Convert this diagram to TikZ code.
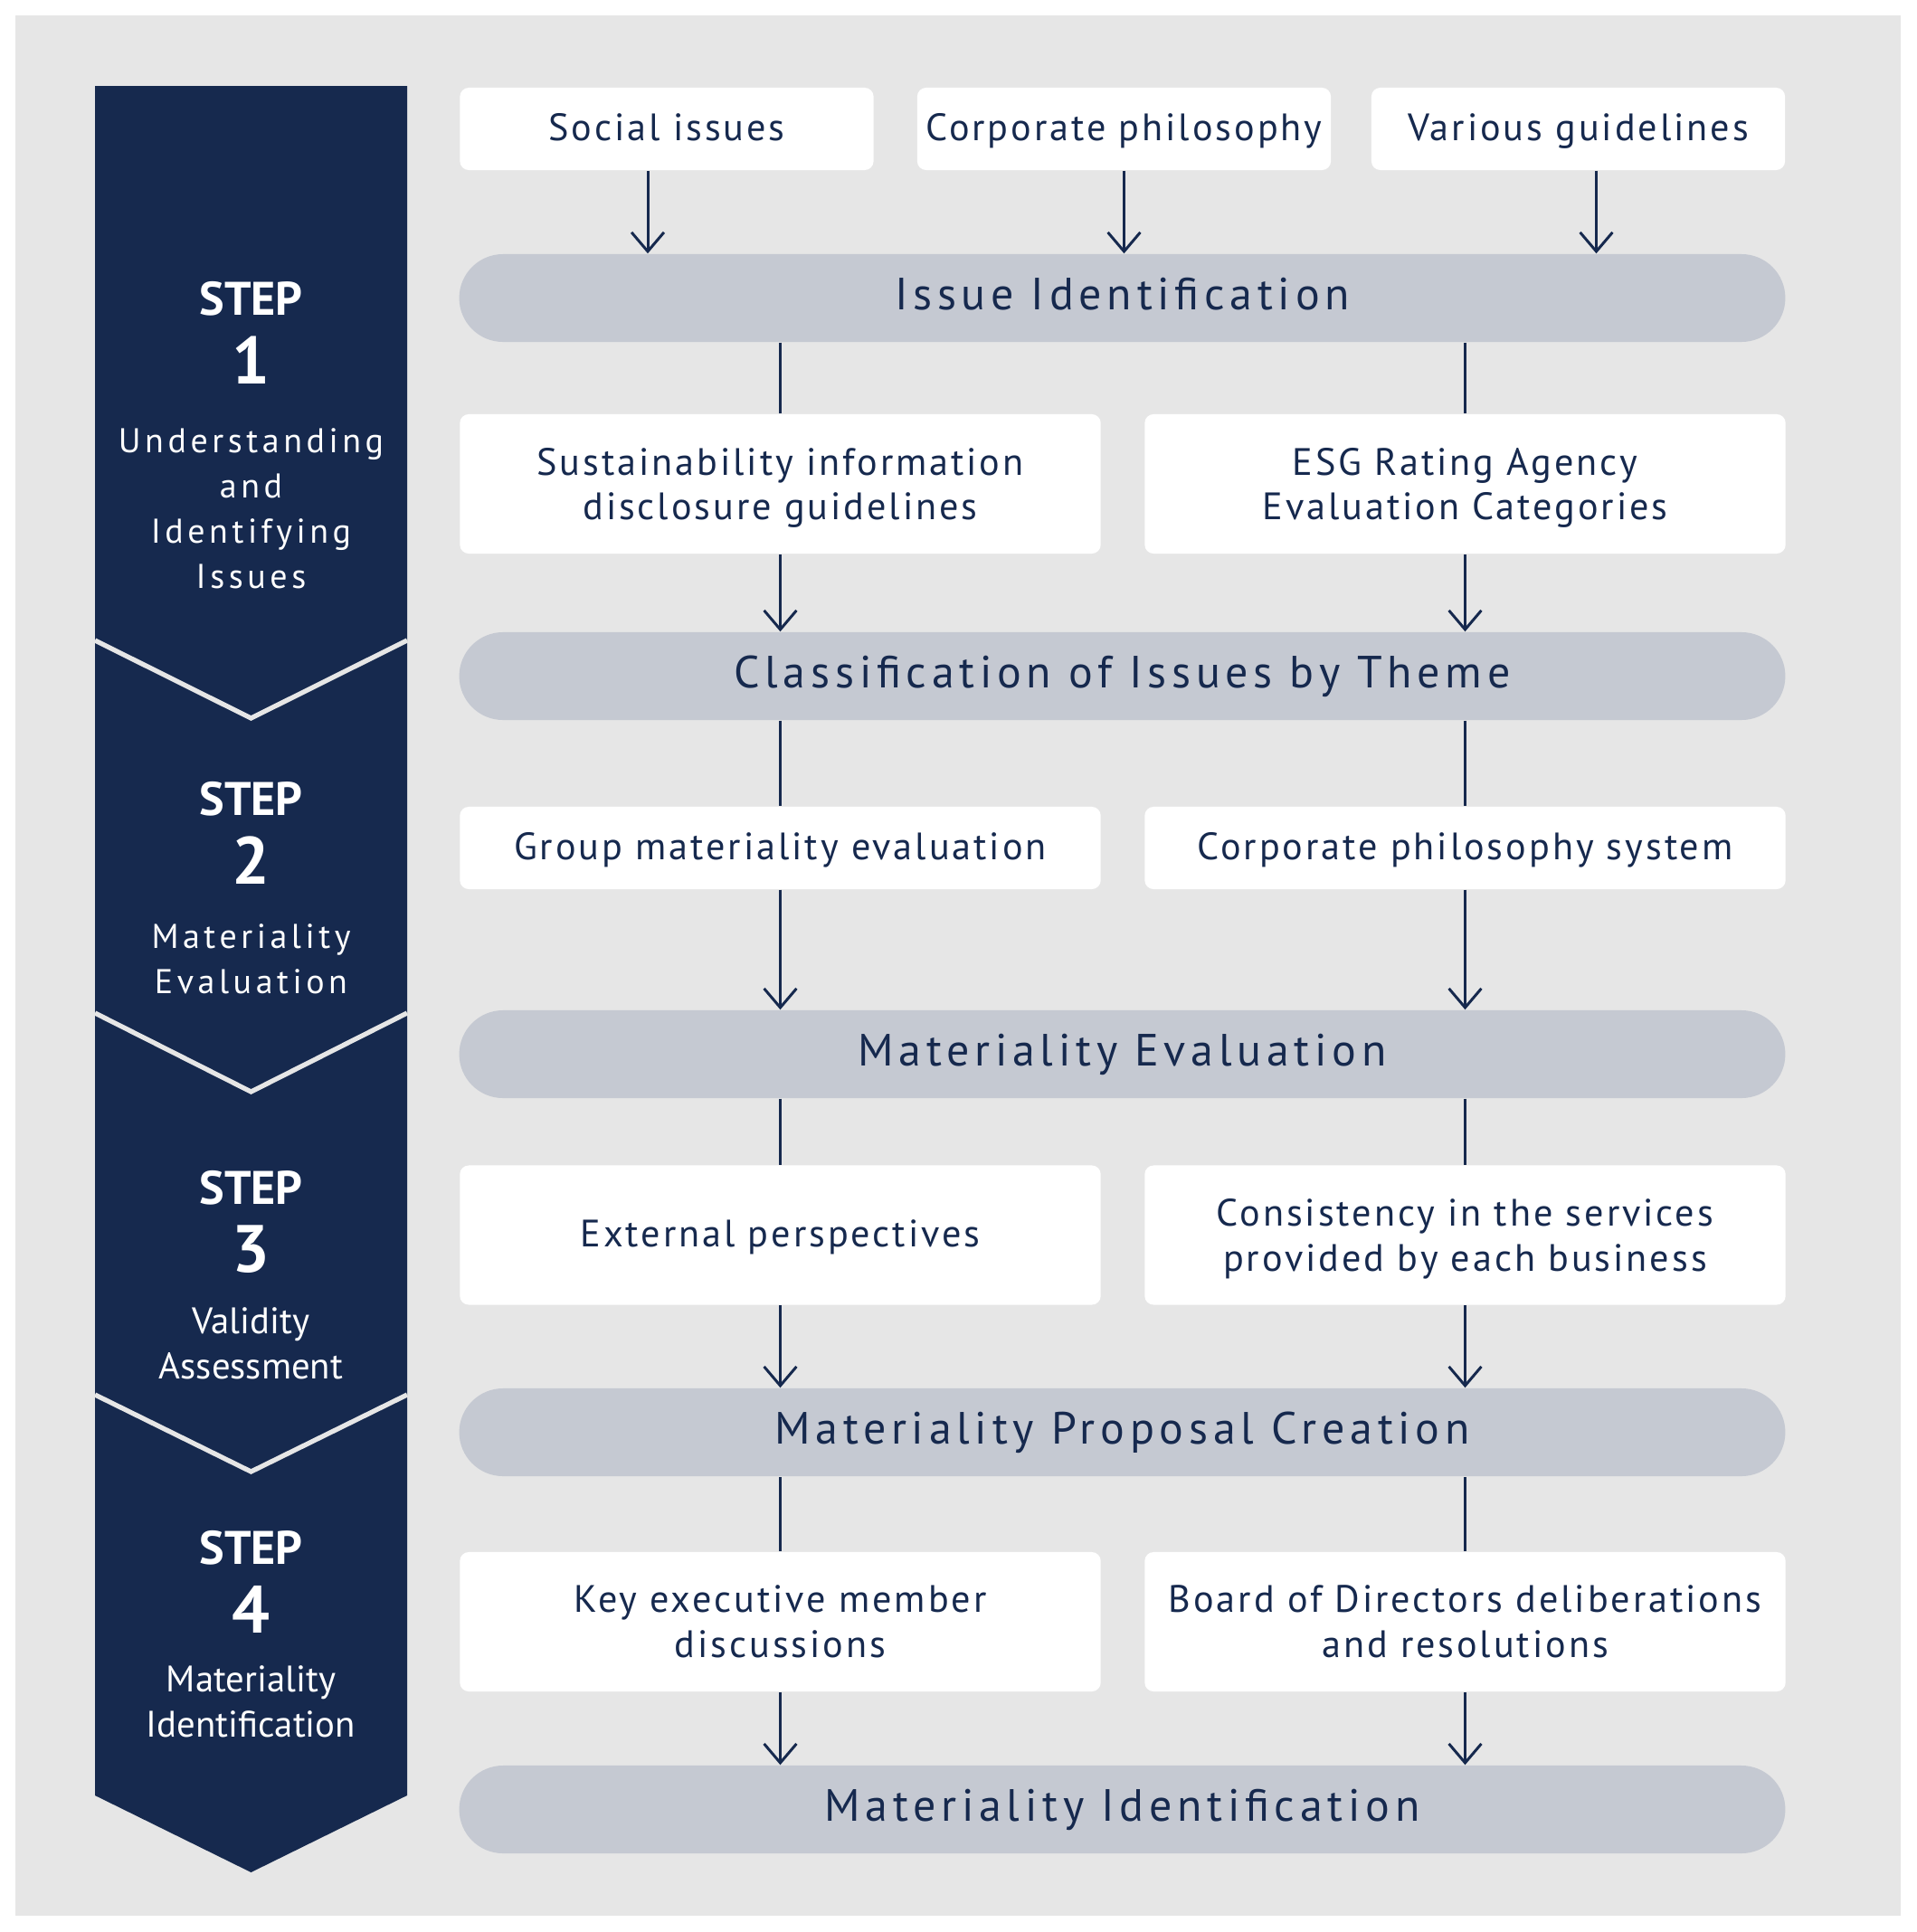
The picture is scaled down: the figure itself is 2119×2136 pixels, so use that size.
\documentclass[tikz,border=0pt]{standalone}
\usepackage{fontspec}
\setmainfont{PT Sans}
\newfontfamily\boxfont[LetterSpace=7]{PT Sans}
\newfontfamily\pillfont[LetterSpace=11.5]{PT Sans}
\newfontfamily\descfont[LetterSpace=12]{PT Sans}
\usetikzlibrary{arrows.meta,calc}
\definecolor{navy}{HTML}{16294E}
\definecolor{bggray}{HTML}{E6E6E6}
\definecolor{pillgray}{HTML}{C5C9D2}
\begin{document}
\begin{tikzpicture}[x=0.01cm,y=-0.01cm,
  box/.style={fill=white, rounded corners=2.8pt, inner sep=0pt, align=center, text=navy,
    minimum width=7.08cm, font=\boxfont\fontsize{12}{14.2}\selectfont},
  oneline/.style={text height=0.72em, text depth=0pt},
  topbox/.style={box, oneline, minimum width=4.57cm, minimum height=0.91cm},
  tallbox/.style={box, text depth=0pt, minimum height=1.54cm},
  lowbox/.style={box, oneline, minimum height=0.91cm},
  pill/.style={fill=pillgray, rounded corners=0.485cm, inner sep=0pt, align=center, text=navy, oneline,
    minimum width=14.65cm, minimum height=0.97cm, font=\pillfont\fontsize{14.2}{17}\selectfont},
  ln/.style={draw=navy, line width=0.85pt},
  arr/.style={ln, -{Straight Barb[length=6pt,width=10.2pt,line width=0.85pt]}},
  steptitle/.style={text=white, inner sep=0pt, font=\fontsize{14.8}{16}\bfseries\selectfont},
  stepnum/.style={text=white, inner sep=0pt, font=\fontsize{21}{24}\bfseries\selectfont},
  stepdesc/.style={text=white, inner sep=0pt, align=center, font=\descfont\fontsize{10.8}{14.2}\selectfont},
  stepdescb/.style={text=white, inner sep=0pt, align=center, font=\fontsize{11.6}{14.2}\selectfont},
  sep/.style={draw=bggray, line width=1.5pt}
]
\useasboundingbox (0,0) rectangle (2119,2136);
\fill[white] (0,0) rectangle (2119,2136);
\fill[bggray] (17,17) rectangle (2101,2118);

% left step panel
\fill[navy] (105,95) -- (450,95) -- (450,1985) -- (277.5,2070) -- (105,1985) -- cycle;
\draw[sep] (105,708) -- (277.5,794) -- (450,708);
\draw[sep] (105,1120) -- (277.5,1207) -- (450,1120);
\draw[sep] (105,1542) -- (277.5,1627) -- (450,1542);

\node[steptitle] (s1t) at (277.5,330) {STEP};
\node[stepnum] (s1n) at (277.5,398) {1};
\node[stepdesc] (s1d) at (277.5,562) {Understanding\\and\\Identifying\\Issues};
\node[steptitle] (s2t) at (277.5,883) {STEP};
\node[stepnum] (s2n) at (277.5,951) {2};
\node[stepdesc] (s2d) at (277.5,1060) {Materiality\\Evaluation};
\node[steptitle] (s3t) at (277.5,1313) {STEP};
\node[stepnum] (s3n) at (277.5,1381) {3};
\node[stepdescb] (s3d) at (277.5,1485) {Validity\\Assessment};
\node[steptitle] (s4t) at (277.5,1711) {STEP};
\node[stepnum] (s4n) at (277.5,1779) {4};
\node[stepdescb] (s4d) at (277.5,1881) {Materiality\\Identification};

% flow
\node[topbox] (t1) at (737,142.5) {Social issues};
\node[topbox] (t2) at (1242.5,142.5) {Corporate philosophy};
\node[topbox] (t3) at (1744.5,142.5) {Various guidelines};
\node[pill] (p1) at (1240.5,329.5) {Issue Identification};

\node[tallbox] (r2l) at (862.5,535) {Sustainability information\\disclosure guidelines};
\node[tallbox] (r2r) at (1619.5,535) {ESG Rating Agency\\Evaluation Categories};
\node[pill] (p2) at (1240.5,747.5) {Classification of Issues by Theme};

\node[lowbox] (r3l) at (862.5,937.5) {Group materiality evaluation};
\node[lowbox] (r3r) at (1619.5,937.5) {Corporate philosophy system};
\node[pill] (p3) at (1240.5,1165.5) {Materiality Evaluation};

\node[tallbox, oneline] (r4l) at (862.5,1365.5) {External perspectives};
\node[tallbox] (r4r) at (1619.5,1365.5) {Consistency in the services\\provided by each business};
\node[pill] (p4) at (1240.5,1583.5) {Materiality Proposal Creation};

\node[tallbox] (r5l) at (862.5,1793) {Key executive member\\discussions};
\node[tallbox] (r5r) at (1619.5,1793) {Board of Directors deliberations\\and resolutions};
\node[pill] (p5) at (1240.5,2000.5) {Materiality Identification};

% connectors
\draw[arr] ($(t1.south)+(-21,0)$) -- ($(t1.south |- p1.north)+(-21,0)$);
\draw[arr] (t2.south) -- (t2.south |- p1.north);
\draw[arr] ($(t3.south)+(20,0)$) -- ($(t3.south |- p1.north)+(20,0)$);

\foreach \a/\b/\c in {p1/r2l/p2, p2/r3l/p3, p3/r4l/p4, p4/r5l/p5,
                      p1/r2r/p2, p2/r3r/p3, p3/r4r/p4, p4/r5r/p5}{
  \draw[ln] (\b.north |- \a.south) -- (\b.north);
  \draw[arr] (\b.south) -- (\b.south |- \c.north);
}
\end{tikzpicture}
\end{document}
